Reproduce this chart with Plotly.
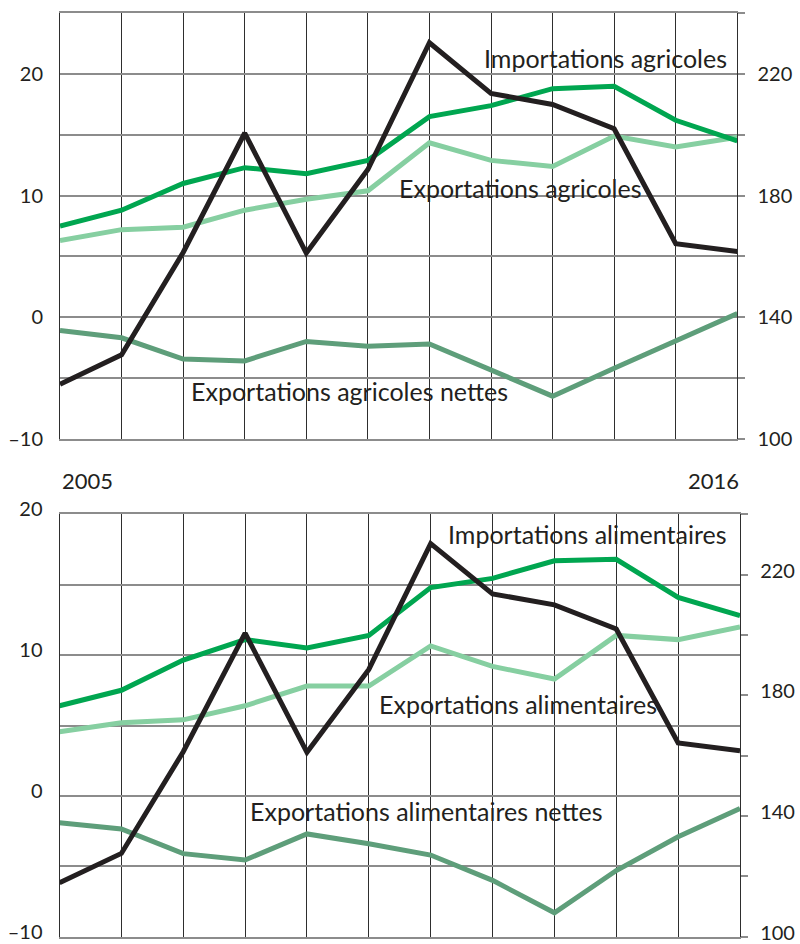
import plotly.graph_objects as go

years = list(range(2005, 2017))

# Top panel: agricultural trade (left axis)
agri_imports = [7.5, 8.8, 11.0, 12.3, 11.8, 12.9, 16.5, 17.4, 18.8, 19.0, 16.2, 14.5]
agri_exports = [6.3, 7.2, 7.4, 8.8, 9.7, 10.4, 14.35, 12.9, 12.4, 14.9, 14.0, 14.8]
agri_net = [-1.1, -1.7, -3.45, -3.6, -2.0, -2.4, -2.2, -4.4, -6.5, -4.2, -1.9, 0.3]

# Bottom panel: food trade (left axis)
food_imports = [6.4, 7.5, 9.65, 11.1, 10.5, 11.4, 14.8, 15.45, 16.7, 16.8, 14.1, 12.8]
food_exports = [4.55, 5.2, 5.4, 6.4, 7.8, 7.8, 10.65, 9.2, 8.3, 11.4, 11.1, 12.0]
food_net = [-1.9, -2.35, -4.1, -4.55, -2.7, -3.4, -4.2, -6.0, -8.3, -5.3, -2.9, -0.9]

# Black line, right axis (same series in both panels)
index_right = [117.9, 127.6, 161.3, 200.6, 161.1, 188.6, 230.3, 213.6, 210.0, 202.0, 164.2, 161.6]

left_ticks_top = [-10, -5, 0, 5, 10, 15, 20, 25]
left_text_top = ["–10", "", "0", "", "10", "", "20", ""]
left_ticks_bot = [-10, -5, 0, 5, 10, 15, 20]
left_text_bot = ["–10", "", "0", "", "10", "", "20"]
right_ticks = [100, 120, 140, 160, 180, 200, 220, 240]
right_text = ["100", "", "140", "", "180", "", "220", ""]
year_labels = ["2005", "2016"]

labels_top = ["Importations agricoles", "Exportations agricoles", "Exportations agricoles nettes"]
labels_bot = ["Importations alimentaires", "Exportations alimentaires", "Exportations alimentaires nettes"]

C_IMP = "#00a650"
C_EXP = "#86cfa1"
C_NET = "#5e9e7a"
C_BLK = "#231f20"
GRID_V = "#2e2e2e"
GRID_H = "#8c8c8c"
FONT = "Lato"
TXT = "#231f20"
LW = 5

fig = go.Figure()

def add_panel(xa, yl, yr, imp, exp, net):
    fig.add_trace(go.Scatter(x=years, y=exp, mode="lines", line=dict(color=C_EXP, width=LW),
                             xaxis=xa, yaxis=yl, hoverinfo="skip"))
    fig.add_trace(go.Scatter(x=years, y=net, mode="lines", line=dict(color=C_NET, width=LW),
                             xaxis=xa, yaxis=yl, hoverinfo="skip"))
    fig.add_trace(go.Scatter(x=years, y=imp, mode="lines", line=dict(color=C_IMP, width=LW),
                             xaxis=xa, yaxis=yl, hoverinfo="skip"))
    fig.add_trace(go.Scatter(x=years, y=index_right, mode="lines", line=dict(color=C_BLK, width=LW),
                             xaxis=xa, yaxis=yr, hoverinfo="skip"))

add_panel("x", "y", "y2", agri_imports, agri_exports, agri_net)
add_panel("x2", "y3", "y4", food_imports, food_exports, food_net)

W, H = 800, 944
tickfont = dict(family=FONT, size=20, color=TXT)

def xaxis_cfg(x0, x1, anchor):
    return dict(domain=[x0 / W, x1 / W], range=[2005, 2016], anchor=anchor, automargin=False,
                tickmode="array", tickvals=years, showticklabels=False, ticks="",
                showgrid=True, gridcolor=GRID_V, gridwidth=1, zeroline=False,
                showline=True, mirror=True, linecolor=GRID_H, linewidth=1.5)

def yleft_cfg(y0, y1, rng, tv, tt, anchor, shift=0):
    return dict(domain=[1 - y1 / H, 1 - y0 / H], range=rng, anchor=anchor, automargin=False,
                tickmode="array", tickvals=tv, ticktext=tt, tickfont=tickfont,
                showgrid=True, gridcolor=GRID_H, gridwidth=1.5, zeroline=False,
                showline=True, linecolor=GRID_V, linewidth=1, ticks="",
                ticklabelstandoff=12, ticklabeloverflow="allow", ticklabelshift=shift)

def yright_cfg(over, anchor, shift=0):
    return dict(overlaying=over, side="right", anchor=anchor, range=[100, 240], automargin=False,
                tickmode="array", tickvals=right_ticks, ticktext=right_text, tickfont=tickfont,
                showgrid=False, zeroline=False, showline=True, linecolor=GRID_V, linewidth=1.3,
                ticks="outside", ticklen=7, tickcolor=GRID_H, tickwidth=1.5,
                ticklabelstandoff=8, ticklabeloverflow="allow", ticklabelshift=shift)

fig.update_layout(
    width=W, height=H, margin=dict(l=0, r=0, t=0, b=0, autoexpand=False), autosize=False,
    paper_bgcolor="white", plot_bgcolor="white", showlegend=False,
    font=dict(family=FONT, color=TXT),
    xaxis=xaxis_cfg(60, 737.3, "y"),
    yaxis=yleft_cfg(13.3, 438.7, [-10, 25], left_ticks_top, left_text_top, "x"),
    yaxis2=yright_cfg("y", "x"),
    xaxis2=xaxis_cfg(59.5, 740, "y3"),
    yaxis3=yleft_cfg(514.3, 936.7, [-10, 20], left_ticks_bot, left_text_bot, "x2", shift=-5),
    yaxis4=yright_cfg("y3", "x2", shift=-4),
)

lab_font = dict(family=FONT, size=25, color=TXT)
ann = [
    dict(text=labels_top[0], x=2015.85, y=21.3, xref="x", yref="y", xanchor="right", yanchor="middle"),
    dict(text=labels_top[1], x=2010.49, y=10.6, xref="x", yref="y", xanchor="left", yanchor="middle"),
    dict(text=labels_top[2], x=2007.11, y=-6.1, xref="x", yref="y", xanchor="left", yanchor="middle"),
    dict(text=labels_bot[0], x=2015.81, y=18.6, xref="x2", yref="y3", xanchor="right", yanchor="middle"),
    dict(text=labels_bot[1], x=2010.15, y=6.5, xref="x2", yref="y3", xanchor="left", yanchor="middle"),
    dict(text=labels_bot[2], x=2008.07, y=-1.05, xref="x2", yref="y3", xanchor="left", yanchor="middle"),
]
for a in ann:
    a.update(showarrow=False, font=lab_font, borderpad=0)
    fig.add_annotation(**a)

yr_font = dict(family=FONT, size=22, color=TXT)
fig.add_annotation(text=year_labels[0], x=2005, y=1 - 480 / H, xref="x", yref="paper",
                   xanchor="left", yanchor="middle", showarrow=False, font=yr_font, borderpad=0,
                   xshift=1)
fig.add_annotation(text=year_labels[1], x=2016, y=1 - 480 / H, xref="x", yref="paper",
                   xanchor="right", yanchor="middle", showarrow=False, font=yr_font, borderpad=0,
                   xshift=3)

fig.write_html(
    "out.html",
    config={"responsive": False, "displayModeBar": False},
    post_script="document.documentElement.style.overflow='hidden';"
                "document.body.style.margin='0';document.body.style.overflow='hidden';",
)
